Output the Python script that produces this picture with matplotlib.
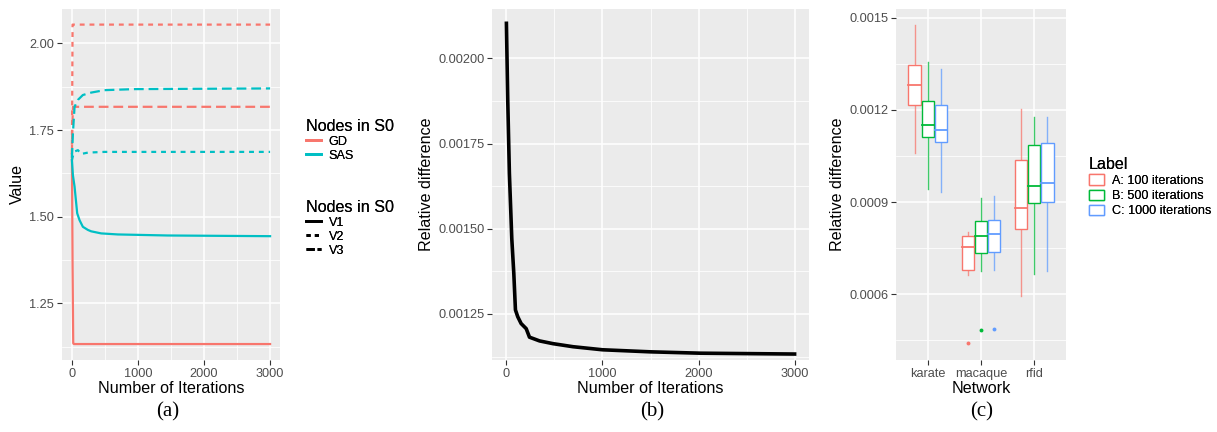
import matplotlib
matplotlib.use("Agg")
import matplotlib.pyplot as plt
from matplotlib.lines import Line2D
from matplotlib.patches import Patch

plt.rcParams["font.family"] = ["Liberation Sans", "DejaVu Sans"]

# ---- panel (a): value vs iterations, per method (colour) and node set (linetype)
iters_a = {
    ("GD", "V1"): [0, 10, 20, 30, 3000],
    ("GD", "V2"): [0, 10, 20, 3000],
    ("GD", "V3"): [0, 5, 15, 3000],
    ("SAS", "V1"): [0, 15, 40, 80, 116, 166, 242, 292, 443, 695, 1449, 3000],
    ("SAS", "V2"): [0, 15, 40, 91, 141, 242, 493, 3000],
    ("SAS", "V3"): [0, 15, 40, 91, 166, 292, 493, 946, 3000],
}
values_a = {
    ("GD", "V1"): [1.68, 1.356, 1.135, 1.133, 1.133],
    ("GD", "V2"): [1.68, 2.054, 2.054, 2.054],
    ("GD", "V3"): [1.68, 1.75, 1.817, 1.817],
    ("SAS", "V1"): [1.663, 1.62, 1.587, 1.51, 1.49, 1.471, 1.462, 1.458, 1.452, 1.449, 1.446, 1.444],
    ("SAS", "V2"): [1.663, 1.675, 1.688, 1.692, 1.681, 1.685, 1.687, 1.687],
    ("SAS", "V3"): [1.67, 1.74, 1.817, 1.837, 1.851, 1.858, 1.865, 1.868, 1.870],
}
methods = ["GD", "SAS"]
node_sets = ["V1", "V2", "V3"]

# ---- panel (b): relative difference vs iterations
iters_b = [0, 14, 31, 56, 77, 94, 118, 153, 206, 240, 345, 484, 693, 1000, 1495, 2017, 3000]
reldiff_b = [0.002103, 0.001876, 0.001663, 0.001471, 0.001369, 0.001262, 0.001242,
             0.001222, 0.001207, 0.001182, 0.001171, 0.001163, 0.001154, 0.001145,
             0.001139, 0.001135, 0.0011325]

# ---- panel (c): boxplot stats (whisker low, q1, median, q3, whisker high)
networks = ["karate", "macaque", "rfid"]
labels_c = ["A: 100 iterations", "B: 500 iterations", "C: 1000 iterations"]
box_stats = {
    "karate": [[0.001061, 0.001215, 0.00128, 0.001345, 0.001476],
               [0.000943, 0.00111, 0.00115, 0.00123, 0.001355],
               [0.000931, 0.001094, 0.001133, 0.001216, 0.001333]],
    "macaque": [[0.000664, 0.00068, 0.000753, 0.000789, 0.000803],
                [0.000675, 0.000734, 0.00079, 0.000837, 0.000913],
                [0.00068, 0.000737, 0.000795, 0.000841, 0.000918]],
    "rfid": [[0.000593, 0.000812, 0.00088, 0.001036, 0.001202],
             [0.000667, 0.000898, 0.000951, 0.001085, 0.001176],
             [0.000675, 0.0009, 0.000963, 0.001092, 0.001178]],
}
outliers = {"macaque": [[0.00044], [0.000483], [0.000486]]}

col_a = {"GD": "#F8766D", "SAS": "#00BFC4"}
col_c = ["#F8766D", "#00BA38", "#619CFF"]
dash = {"V1": None, "V2": (2.2, 2.2), "V3": (4.4, 2.2)}

TICK = 9.2
LEGTXT = 9.1
TITLE = 11.6


def gg_axes(ax):
    ax.set_facecolor("#EBEBEB")
    for s in ax.spines.values():
        s.set_visible(False)
    ax.grid(True, which="major", color="white", lw=1.1)
    ax.grid(True, which="minor", color="white", lw=0.55)
    ax.set_axisbelow(True)
    ax.tick_params(which="major", length=3.5, width=0.8, color="#333333",
                   labelcolor="#4D4D4D", labelsize=TICK, pad=2)
    ax.tick_params(which="minor", length=0)


def add_legend(handles, labels, title, x, y, **kw):
    leg = fig.legend(handles, labels, title=title, loc="upper left",
                     bbox_to_anchor=(x / 1217, 1 - y / 432), frameon=False,
                     fontsize=LEGTXT, title_fontsize=TITLE, handlelength=1.2,
                     handletextpad=0.6, alignment="left", borderpad=0.2, **kw)
    fig.add_artist(leg)
    return leg


fig = plt.figure(figsize=(12.17, 4.32), dpi=100)

# (a)
ax1 = fig.add_axes([62 / 1217, 72 / 432, 218 / 1217, 351 / 432])
gg_axes(ax1)
for m in methods:
    for v in node_sets:
        ln, = ax1.plot(iters_a[(m, v)], values_a[(m, v)], color=col_a[m], lw=1.6)
        if dash[v]:
            ln.set_dashes(dash[v])
ax1.set_xlim(-150, 3150)
ax1.set_ylim(1.087, 2.099)
ax1.set_xticks([0, 1000, 2000, 3000])
ax1.set_xticks([500, 1500, 2500], minor=True)
ax1.set_yticks([1.25, 1.50, 1.75, 2.00])
ax1.set_yticks([1.125, 1.375, 1.625, 1.875], minor=True)
ax1.set_yticklabels(["1.25", "1.50", "1.75", "2.00"])
ax1.set_xlabel("Number of Iterations", fontsize=TITLE, labelpad=1)
ax1.set_ylabel("Value", fontsize=TITLE, labelpad=3)

h_col = [Line2D([], [], color=col_a[m], lw=2) for m in methods]
h_lt = []
for v in node_sets:
    ln = Line2D([], [], color="black", lw=2)
    if dash[v]:
        ln.set_dashes((1.5, 1.5) if v == "V2" else (3, 1))
    h_lt.append(ln)
add_legend(h_col, methods, "Nodes in S0", 297, 110, labelspacing=0.15)
add_legend(h_lt, node_sets, "Nodes in S0", 297, 191, labelspacing=0.15)

# (b)
ax2 = fig.add_axes([492 / 1217, 72 / 432, 317 / 1217, 351 / 432])
gg_axes(ax2)
ax2.plot(iters_b, reldiff_b, color="black", lw=2.6)
ax2.set_xlim(-150, 3150)
ax2.set_ylim(0.001115, 0.002145)
ax2.set_xticks([0, 1000, 2000, 3000])
ax2.set_xticks([500, 1500, 2500], minor=True)
ax2.set_yticks([0.00125, 0.0015, 0.00175, 0.002])
ax2.set_yticks([0.001125, 0.001375, 0.001625, 0.001875], minor=True)
ax2.set_yticklabels(["0.00125", "0.00150", "0.00175", "0.00200"])
ax2.set_xlabel("Number of Iterations", fontsize=TITLE, labelpad=1)
ax2.set_ylabel("Relative difference", fontsize=TITLE, labelpad=3)

# (c)
ax3 = fig.add_axes([896 / 1217, 72 / 432, 170 / 1217, 351 / 432])
gg_axes(ax3)
bw = 0.23
for i, net in enumerate(networks):
    for j in range(3):
        lo, q1, med, q3, hi = box_stats[net][j]
        x = i + 1 + (j - 1) * 0.25
        c = col_c[j]
        ax3.plot([x, x], [lo, q1], color=c, lw=1.0, alpha=0.75)
        ax3.plot([x, x], [q3, hi], color=c, lw=1.0, alpha=0.75)
        ax3.add_patch(plt.Rectangle((x - bw / 2, q1), bw, q3 - q1, facecolor="white",
                                    edgecolor=c, lw=1.0, zorder=3))
        ax3.plot([x - bw / 2, x + bw / 2], [med, med], color=c, lw=1.3, zorder=4)
        for o in outliers.get(net, [[], [], []])[j]:
            ax3.plot(x, o, "o", color=c, ms=2.8, mec="none", zorder=4)
ax3.set_xlim(0.4, 3.6)
ax3.set_ylim(0.000386, 0.001528)
ax3.set_xticks([1, 2, 3])
ax3.set_xticklabels(networks)
ax3.set_yticks([0.0006, 0.0009, 0.0012, 0.0015])
ax3.set_yticks([0.00045, 0.00075, 0.00105, 0.00135], minor=True)
ax3.set_yticklabels(["0.0006", "0.0009", "0.0012", "0.0015"])
ax3.set_xlabel("Network", fontsize=TITLE, labelpad=1)
ax3.set_ylabel("Relative difference", fontsize=TITLE, labelpad=3)

h_box = [Patch(facecolor="white", edgecolor=c, lw=1.0) for c in col_c]
add_legend(h_box, labels_c, "Label", 1080, 148, labelspacing=0.2, handleheight=0.9)

# panel captions
for x, t in [(168, "(a)"), (652, "(b)"), (982, "(c)")]:
    fig.text(x / 1217, 1 - 412 / 432, t, ha="center", va="center",
             fontsize=15, family="Liberation Serif")

fig.savefig("out.png", dpi=100)
